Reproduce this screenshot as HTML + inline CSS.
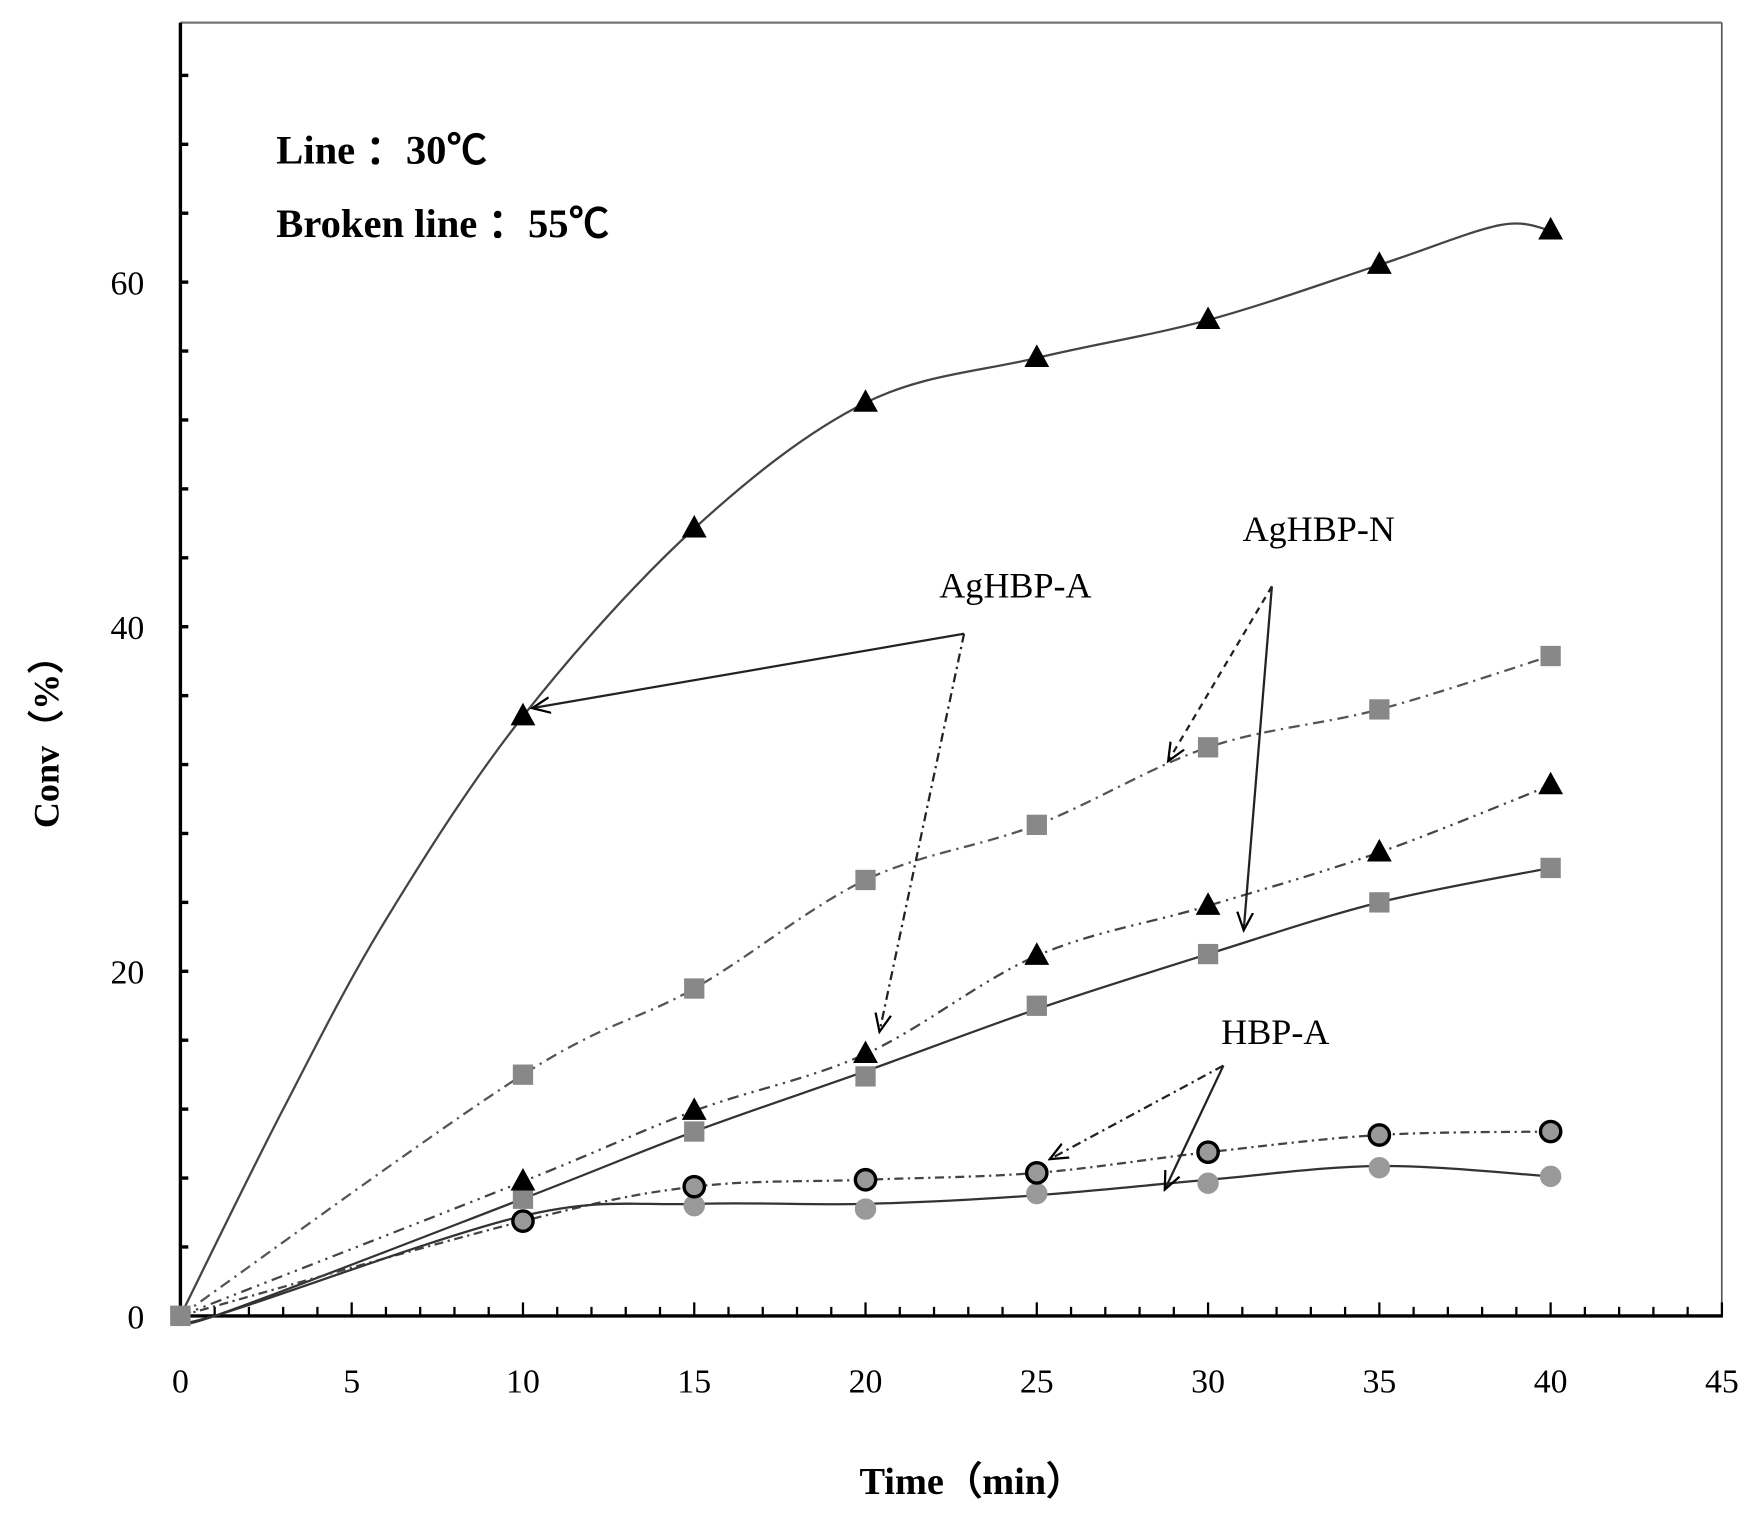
<!DOCTYPE html>
<html><head><meta charset="utf-8"><style>
html,body{margin:0;padding:0;background:#fff}
svg{display:block}
text{font-family:"Liberation Serif",serif}
</style></head><body>
<svg id="s" width="1759" height="1513" viewBox="0 0 1560 1341.8" xmlns="http://www.w3.org/2000/svg">
<defs>
<marker id="ah" markerWidth="10" markerHeight="10" refX="9" refY="5" orient="auto" markerUnits="userSpaceOnUse" viewBox="0 0 10 10"><path d="M0,0 L10,5 L0,10" fill="none" stroke="#000" stroke-width="1.5"/></marker>
<marker id="ah2" markerWidth="18" markerHeight="18" refX="16" refY="9" orient="auto" markerUnits="userSpaceOnUse"><path d="M0,2 L16,9 L0,16" fill="none" stroke="#000" stroke-width="2"/></marker>
</defs>
<g id="g"></g>
<text x="245" y="145" font-size="36" font-weight="bold">Line ：30℃</text>
<text x="245" y="210" font-size="36" font-weight="bold">Broken line ：55℃</text>
<text x="833" y="530" font-size="32">AgHBP-A</text>
<text x="1102" y="480" font-size="32">AgHBP-N</text>
<text x="1083" y="926" font-size="32">HBP-A</text>
<text x="862" y="1325" font-size="34" font-weight="bold" text-anchor="middle">Time（min）</text>
<text transform="translate(52,650) rotate(-90)" font-size="32" font-weight="bold" text-anchor="middle">Conv（%）</text>
</svg>
<script>
const NS="http://www.w3.org/2000/svg",g=document.getElementById('g');
const X=t=>160+t*30.38,Y=v=>1167-v*15.28;
function el(n,a){const e=document.createElementNS(NS,n);for(const k in a)e.setAttribute(k,a[k]);g.appendChild(e);return e;}
function txt(x,y,s,anc){const e=el('text',{x,y,'font-size':30,'text-anchor':anc||'middle'});e.textContent=s;}
// axes
el('line',{x1:160,y1:20,x2:1527,y2:20,stroke:'#777','stroke-width':2});
el('line',{x1:1527,y1:20,x2:1527,y2:1167,stroke:'#555','stroke-width':1.5});
el('line',{x1:160,y1:20,x2:160,y2:1168,stroke:'#000','stroke-width':3});
el('line',{x1:158,y1:1167,x2:1528,y2:1167,stroke:'#000','stroke-width':3});
for(let t=0;t<=45;t++){const x=X(t);el('line',{x1:x,y1:1167,x2:x,y2:t%5==0?1155:1159,stroke:'#000','stroke-width':2});}
for(let t=0;t<=45;t+=5)txt(X(t),1235,t);
for(let v=0;v<=75;v+=4){el('line',{x1:160,y1:Y(v),x2:167,y2:Y(v),stroke:'#000','stroke-width':3});}
for(let v=0;v<=60;v+=20)txt(128,Y(v)+11,v,'end');
function curve(pts,dash,col,w){let d='M'+X(pts[0][0])+','+Y(pts[0][1]);
 const P=pts.map(p=>[X(p[0]),Y(p[1])]);
 for(let i=0;i<P.length-1;i++){const p0=P[i-1]||P[i],p1=P[i],p2=P[i+1],p3=P[i+2]||P[i+1];
 d+=` C${p1[0]+(p2[0]-p0[0])/6},${p1[1]+(p2[1]-p0[1])/6} ${p2[0]-(p3[0]-p1[0])/6},${p2[1]-(p3[1]-p1[1])/6} ${p2[0]},${p2[1]}`;}
 const a={d,fill:'none',stroke:col||'#333','stroke-width':w||2};if(dash)a['stroke-dasharray']=dash;el('path',a);}
function tri(t,v){const x=X(t),y=Y(v);el('path',{d:`M${x},${y-12} L${x+11},${y+8} L${x-11},${y+8}Z`,fill:'#000'});}
function sq(t,v){const x=X(t),y=Y(v);el('rect',{x:x-9,y:y-9,width:18,height:18,fill:'#888'});}
function circ(t,v,blk){el('circle',{cx:X(t),cy:Y(v),r:9,fill:'#999',stroke:blk?'#000':'#999','stroke-width':blk?3:1});}
const T=[0,10,15,20,25,30,35,40];
const A30=[0,34.8,45.7,53,55.6,57.8,61,63],SQ55=[0,14,19,25.3,28.5,33,35.2,38.3],TR55=[0,7.8,11.9,15.2,20.9,23.8,26.9,30.8],
SQ30=[0,6.8,10.7,13.9,18,21,24,26],C55=[0,5.5,7.5,7.9,8.3,9.5,10.5,10.7],C30=[0,5.5,6.4,6.2,7.1,7.7,8.6,8.1];
const z=a=>T.map((t,i)=>[t,a[i]]);
curve([[0,0],[3,12],[6,23],[10,34.8],[15,45.7],[20,53],[25,55.6],[30,57.8],[35,61],[38.5,63.3],[40,63]],null,'#444',2);
curve(z(SQ55),'10,5,2,5','#555',2);
curve(z(TR55),'10,5,2,5,2,5','#444',2);
curve([[0,0],[1,0],[10,6.8],[15,10.7],[20,14.2],[25,17.8],[30,21],[35,24],[40,26]],null,'#333',2);
curve(z(C55),'8,4,2,4','#444',2);
curve([[0,0],[1,0],[10,5.8],[15,6.5],[20,6.5],[25,7],[30,7.9],[35,8.7],[40,8.1]],null,'#333',2);
SQ55.forEach((v,i)=>sq(T[i],v));SQ30.forEach((v,i)=>sq(T[i],v));
C30.forEach((v,i)=>i&&circ(T[i],v,false));C55.forEach((v,i)=>i&&circ(T[i],v,true));
A30.forEach((v,i)=>i&&tri(T[i],v));TR55.forEach((v,i)=>i&&tri(T[i],v));
// arrows
function arr(x1,y1,x2,y2,dash){const a={x1,y1,x2,y2,stroke:'#222','stroke-width':2,'marker-end':'url(#ah2)'};if(dash)a['stroke-dasharray']=dash;el('line',a);}
arr(855,562,472,628);arr(855,562,780,915,'8,4,2,4');
arr(1128,520,1036,675,'6,5');arr(1128,520,1103,825);
arr(1085,945,931,1028,'8,4,2,4');arr(1085,945,1033,1055);
</script>
</body></html>
